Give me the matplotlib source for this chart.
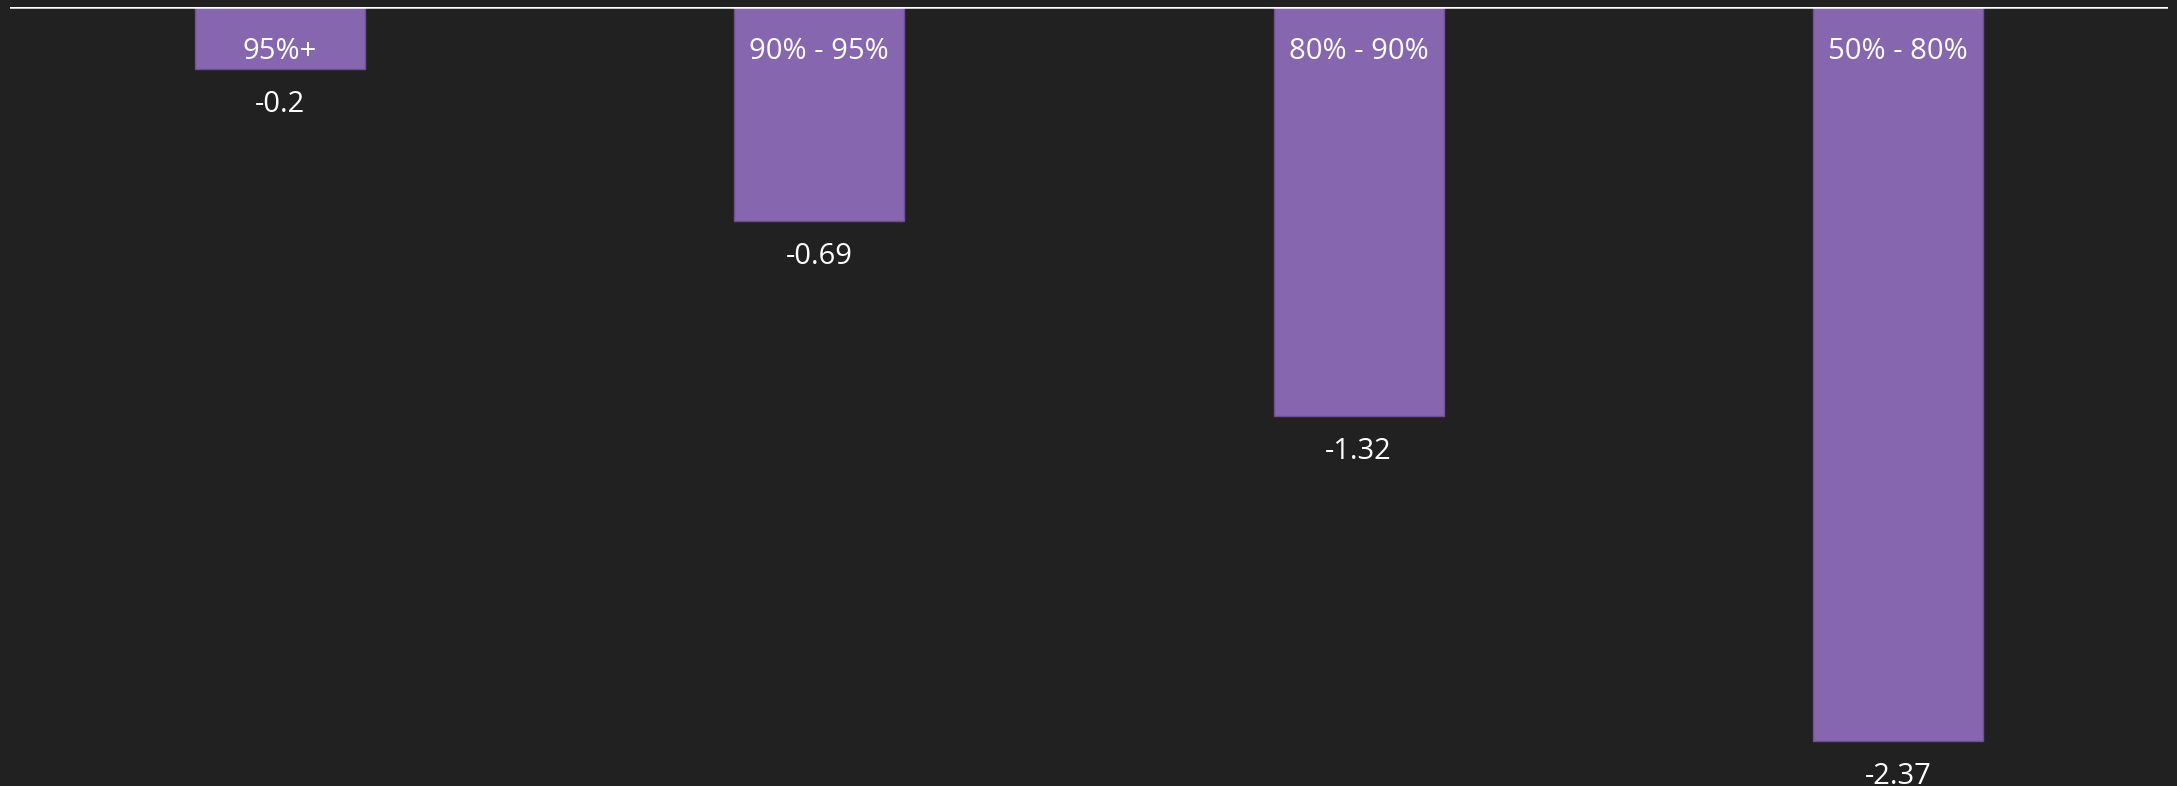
import matplotlib.pyplot as plt

plt.rcParams['font.family'] = ['Open Sans', 'DejaVu Sans']

# Datos
categorias = ['95%+', '90% - 95%', '80% - 90%', '50% - 80%']
valores = [-0.2, -0.69, -1.32, -2.37]

fondo = '#212121'
morado = '#8766b0'

fig = plt.figure(figsize=(21.77, 7.86), dpi=100, facecolor=fondo)
ax = fig.add_axes([10 / 2177, 0, 2158 / 2177, 1 - 7 / 786])
ax.set_facecolor(fondo)

x = range(len(categorias))
ax.bar(x, valores, width=0.315, color=morado, edgecolor='#6e4f94', linewidth=1)

# Línea en cero
ax.axhline(0, color='white', linewidth=1.8, zorder=5)

# Etiquetas: categoría dentro de la barra, valor debajo
for i, (cat, val) in enumerate(zip(categorias, valores)):
    ax.annotate(cat, (i, 0), xytext=(0, -32), textcoords='offset points',
                ha='center', va='center', color='white', fontsize=21)
    ax.annotate(f'{val:g}', (i, val), xytext=(0, -25.5), textcoords='offset points',
                ha='center', va='center', color='white', fontsize=21)

ax.set_xlim(-0.5, 3.5)
ax.set_ylim(-2.515, 0)
ax.axis('off')

plt.savefig('out.png', dpi=100, facecolor=fondo)
